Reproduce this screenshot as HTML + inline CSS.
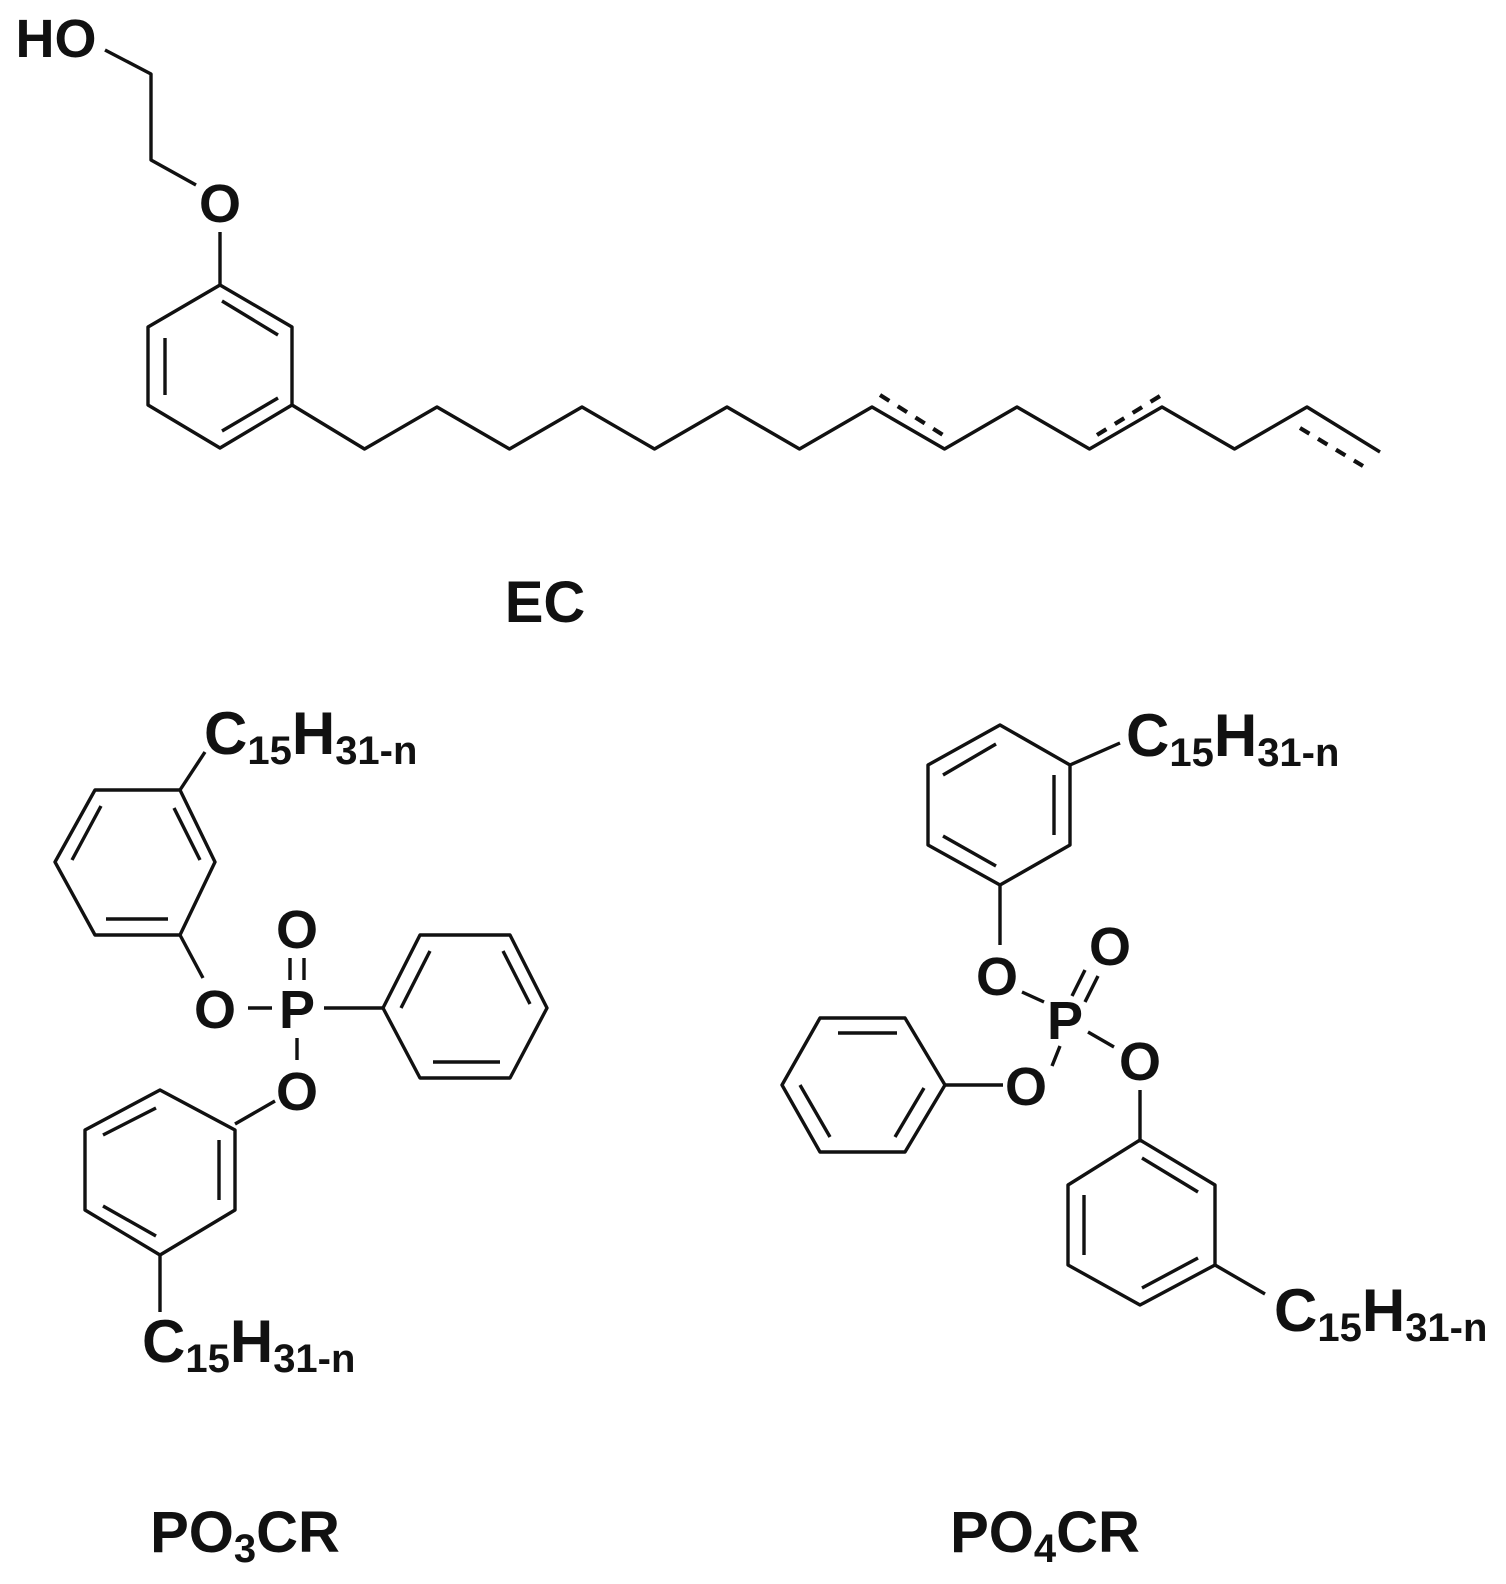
<!DOCTYPE html>
<html><head><meta charset="utf-8"><style>
html,body{margin:0;padding:0;background:#fff;}
svg{display:block;}
text{font-family:"Liberation Sans",Arial,sans-serif;font-weight:bold;fill:#111;}
</style></head><body>
<svg width="1506" height="1584" viewBox="0 0 1506 1584" xmlns="http://www.w3.org/2000/svg">
<g stroke="#111" stroke-width="3.4" fill="none" stroke-linejoin="round" stroke-linecap="butt">
<!-- EC -->
<polyline points="105,50 151,74 151,160 196,185"/>
<line x1="220" y1="232" x2="220" y2="285"/>
<polygon points="220,285 292,327 292,405 220,448 148,405 148,327"/>
<line x1="222" y1="301" x2="278" y2="335"/>
<line x1="278" y1="398" x2="222" y2="431"/>
<line x1="165" y1="338" x2="165" y2="395"/>
<polyline points="292,405 364.5,449 437,407 509.5,449 582,407 654.5,449 727,407 799.5,449 872,407 944.5,449 1017,407 1089.5,449 1162,407 1234.5,449 1307,407 1380,452"/>
<g stroke-width="4.2" stroke-dasharray="11,10">
<line x1="880" y1="395" x2="943" y2="435"/>
<line x1="1097" y1="435" x2="1160" y2="396"/>
<line x1="1300" y1="428" x2="1363" y2="466"/>
</g>
<!-- PO3CR -->
<line x1="180" y1="790" x2="205" y2="752"/>
<polygon points="180,790 215,862 180,935 95,935 55,862 95,790"/>
<line x1="174" y1="808" x2="200" y2="860"/>
<line x1="106" y1="919" x2="168" y2="919"/>
<line x1="72" y1="860" x2="101" y2="806"/>
<line x1="180" y1="935" x2="203" y2="978"/>
<line x1="248" y1="1008" x2="272" y2="1008"/>
<line x1="324" y1="1008" x2="383" y2="1008"/>
<line x1="290" y1="958" x2="290" y2="980"/>
<line x1="304" y1="958" x2="304" y2="980"/>
<line x1="297" y1="1038" x2="297" y2="1060"/>
<polygon points="383,1008 420,935 510,935 547,1008 510,1078 420,1078"/>
<line x1="401" y1="1008" x2="430" y2="951"/>
<line x1="503" y1="951" x2="530" y2="1004"/>
<line x1="433" y1="1062" x2="500" y2="1062"/>
<line x1="275" y1="1101" x2="235" y2="1124"/>
<polygon points="160,1090 235,1130 235,1210 160,1255 85,1210 85,1130"/>
<line x1="103" y1="1135" x2="156" y2="1108"/>
<line x1="219" y1="1140" x2="219" y2="1200"/>
<line x1="103" y1="1206" x2="156" y2="1236"/>
<line x1="160" y1="1255" x2="160" y2="1312"/>
<!-- PO4CR -->
<polygon points="1000,725 1070,765 1070,845 1000,885 928,845 928,765"/>
<line x1="943" y1="775" x2="996" y2="744"/>
<line x1="1054" y1="775" x2="1054" y2="835"/>
<line x1="943" y1="836" x2="996" y2="866"/>
<line x1="1070" y1="765" x2="1120" y2="743"/>
<line x1="1000" y1="885" x2="1000" y2="945"/>
<line x1="1022" y1="992" x2="1044" y2="1002"/>
<line x1="1072" y1="996" x2="1085" y2="970"/>
<line x1="1085" y1="1002" x2="1098" y2="976"/>
<line x1="1088" y1="1032" x2="1114" y2="1047"/>
<line x1="1060" y1="1046" x2="1052" y2="1066"/>
<line x1="1003" y1="1085" x2="945" y2="1085"/>
<polygon points="945,1085 905,1018 820,1018 782,1085 820,1152 905,1152"/>
<line x1="838" y1="1033" x2="897" y2="1033"/>
<line x1="800" y1="1085" x2="830" y2="1137"/>
<line x1="895" y1="1137" x2="924" y2="1088"/>
<line x1="1140" y1="1090" x2="1140" y2="1140"/>
<polygon points="1140,1140 1215,1185 1215,1265 1140,1305 1068,1265 1068,1185"/>
<line x1="1142" y1="1158" x2="1198" y2="1192"/>
<line x1="1084" y1="1195" x2="1084" y2="1255"/>
<line x1="1198" y1="1258" x2="1142" y2="1288"/>
<line x1="1215" y1="1265" x2="1265" y2="1294"/>
</g>
<g font-size="54" text-anchor="middle">
<text x="56" y="57">HO</text>
<text x="220" y="222">O</text>
<text x="215" y="1028">O</text>
<text x="297" y="1028">P</text>
<text x="297" y="948">O</text>
<text x="297" y="1110">O</text>
<text x="997" y="995">O</text>
<text x="1065" y="1039">P</text>
<text x="1110" y="965">O</text>
<text x="1140" y="1080">O</text>
<text x="1026" y="1105">O</text>
</g>
<g font-size="60">
<text x="204" y="754">C<tspan font-size="40" dy="10">15</tspan><tspan dy="-10">H</tspan><tspan font-size="40" dy="10">31-n</tspan></text>
<text x="142" y="1362">C<tspan font-size="40" dy="10">15</tspan><tspan dy="-10">H</tspan><tspan font-size="40" dy="10">31-n</tspan></text>
<text x="1126" y="756">C<tspan font-size="40" dy="10">15</tspan><tspan dy="-10">H</tspan><tspan font-size="40" dy="10">31-n</tspan></text>
<text x="1274" y="1331">C<tspan font-size="40" dy="10">15</tspan><tspan dy="-10">H</tspan><tspan font-size="40" dy="10">31-n</tspan></text>
</g>
<g font-size="58" text-anchor="middle">
<text x="545" y="622">EC</text>
<text x="245" y="1552">PO<tspan font-size="40" dy="10">3</tspan><tspan dy="-10">CR</tspan></text>
<text x="1045" y="1552">PO<tspan font-size="40" dy="10">4</tspan><tspan dy="-10">CR</tspan></text>
</g>
</svg>
</body></html>
